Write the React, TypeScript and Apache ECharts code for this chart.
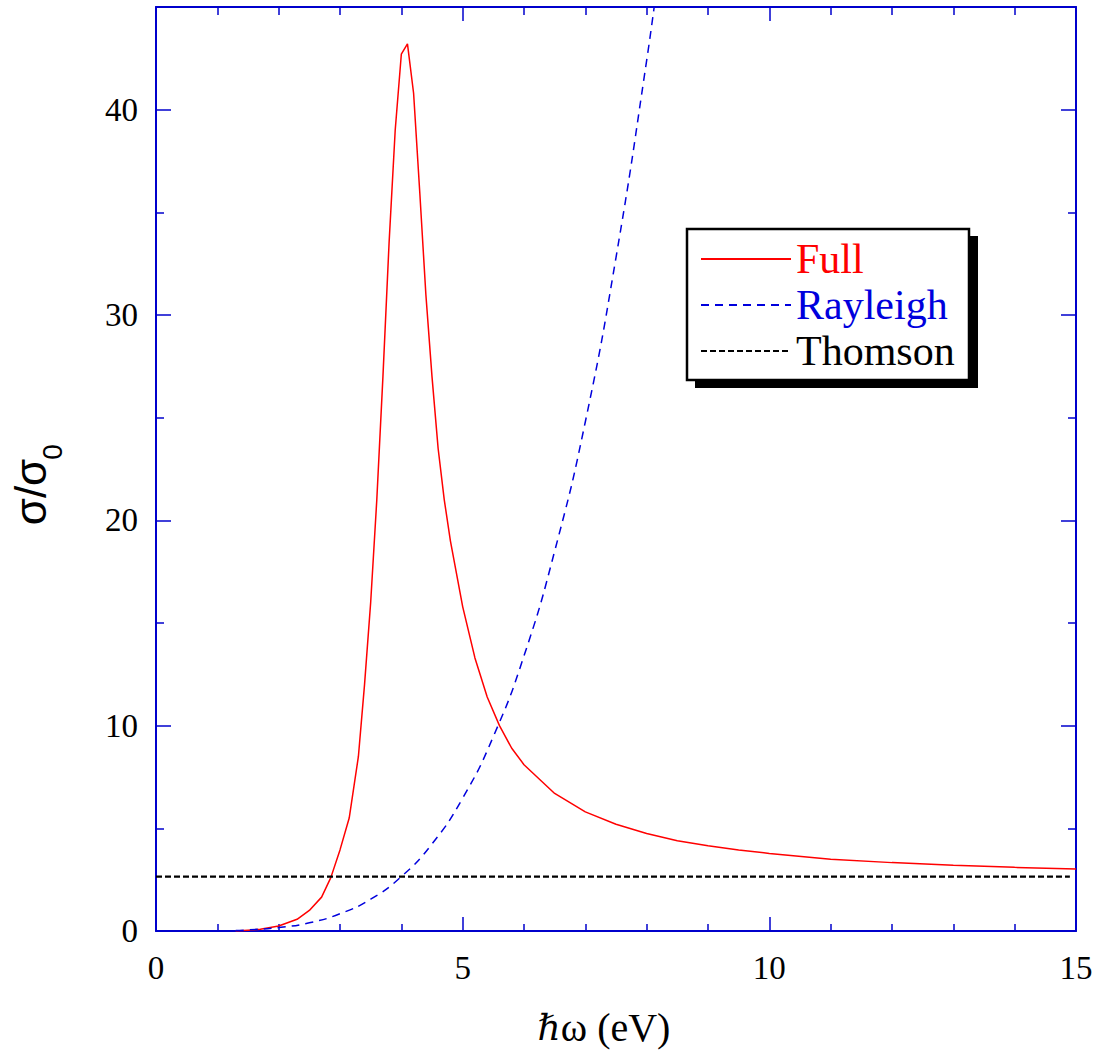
import React, { useEffect, useRef } from "react";
import * as echarts from "echarts";

const fullX = [1.3, 1.5, 1.7, 2.0, 2.3, 2.5, 2.7, 2.85, 3.0, 3.15, 3.3, 3.4, 3.5, 3.6, 3.7, 3.8, 3.9, 4.0, 4.1, 4.2, 4.3, 4.4, 4.5, 4.6, 4.7, 4.8, 5.0, 5.2, 5.4, 5.6, 5.8, 6.0, 6.5, 7.0, 7.5, 8.0, 8.5, 9.0, 9.5, 10, 11, 12, 13, 14, 15];
const fullY = [0.0, 0.04, 0.08, 0.24, 0.57, 1.0, 1.65, 2.6, 3.95, 5.5, 8.5, 12, 16, 21, 27, 33.5, 39, 42.7, 43.2, 40.8, 36, 31, 27, 23.5, 21, 19, 15.8, 13.3, 11.4, 10.0, 8.9, 8.1, 6.7, 5.8, 5.2, 4.75, 4.4, 4.15, 3.95, 3.78, 3.5, 3.33, 3.2, 3.1, 3.02];

const rayX = [1.3, 1.5, 2.0, 2.5, 3.0, 3.5, 4.0, 4.5, 5.0, 5.5, 6.0, 6.5, 7.0, 7.5, 8.0, 8.2];
const rayY = [0.03, 0.05, 0.17, 0.4, 0.84, 1.55, 2.65, 4.24, 6.47, 9.47, 13.4, 18.5, 24.8, 32.8, 42.4, 46.8];

const thomX = [0, 14.9];
const thomY = [2.65, 2.65];

const xTicks = { min: 0, max: 15, interval: 5 };
const yTicks = { min: 0, max: 45, interval: 10 };

const FRAME = "#0000cc";
const SERIF = "'Liberation Serif', 'Times New Roman', serif";

const zip = (xs: number[], ys: number[]) => xs.map((x, i) => [x, ys[i]]);

export default function App() {
  const ref = useRef<HTMLDivElement>(null);
  useEffect(() => {
    if (!ref.current) return;
    const chart = echarts.init(ref.current, null, { renderer: "svg" });
    const axisLine = { show: true, onZero: false, lineStyle: { color: FRAME, width: 2 } };
    const xCommon = {
      type: "value",
      min: xTicks.min,
      max: xTicks.max,
      interval: xTicks.interval,
      axisLine,
      splitLine: { show: false },
    };
    const yCommon = {
      type: "value",
      min: yTicks.min,
      max: yTicks.max,
      interval: yTicks.interval,
      axisLine,
      splitLine: { show: false },
    };
    chart.setOption({
      animation: false,
      backgroundColor: "#ffffff",
      grid: { left: 156, right: 27, top: 7, bottom: 128 },
      xAxis: [
        {
          ...xCommon,
          position: "bottom",
          axisTick: { inside: true, length: 14, lineStyle: { color: FRAME, width: 1.5 } },
          minorTick: { show: true, splitNumber: 5, length: 7, lineStyle: { color: FRAME, width: 1.5 } },
          axisLabel: { color: "#000", fontSize: 33, fontFamily: SERIF, margin: 20 },
        },
        {
          ...xCommon,
          position: "top",
          axisTick: { inside: true, length: 14, lineStyle: { color: FRAME, width: 1.5 } },
          minorTick: { show: true, splitNumber: 5, length: 8, lineStyle: { color: FRAME, width: 1.5 } },
          axisLabel: { show: false },
        },
      ],
      yAxis: [
        {
          ...yCommon,
          position: "left",
          axisTick: { inside: true, length: 15, lineStyle: { color: FRAME, width: 1.5 } },
          minorTick: { show: true, splitNumber: 2, length: 8, lineStyle: { color: FRAME, width: 1.5 } },
          axisLabel: { color: "#000", fontSize: 33, fontFamily: SERIF, margin: 18, showMaxLabel: false },
        },
        {
          ...yCommon,
          position: "right",
          axisTick: { inside: true, length: 15, lineStyle: { color: FRAME, width: 1.5 } },
          minorTick: { show: true, splitNumber: 2, length: 8, lineStyle: { color: FRAME, width: 1.5 } },
          axisLabel: { show: false },
        },
      ],
      legend: {
        orient: "vertical",
        left: 700,
        top: 236,
        padding: 0,
        itemGap: 0,
        itemWidth: 90,
        itemHeight: 14,
        itemStyle: { opacity: 0 },
        textStyle: { fontSize: 42, fontFamily: SERIF, lineHeight: 46 },
        data: [
          { name: "Full", textStyle: { color: "#ff0000" } },
          { name: "Rayleigh", textStyle: { color: "#0000dd" } },
          { name: "Thomson", textStyle: { color: "#000000" } },
        ],
        z: 10,
      },
      graphic: [
        { type: "rect", z: 5, shape: { x: 695, y: 236, width: 283, height: 152 }, style: { fill: "#000" } },
        { type: "rect", z: 6, shape: { x: 687, y: 229, width: 282, height: 151 }, style: { fill: "#fff", stroke: "#000", lineWidth: 2.5 } },
        {
          type: "text",
          x: 604,
          y: 1027,
          style: {
            text: "{h|ℏ}{t|ω (eV)}",
            fill: "#000",
            align: "center",
            verticalAlign: "middle",
            rich: {
              h: { fontFamily: "'DejaVu Serif', serif", fontStyle: "italic", fontSize: 36, fill: "#000" },
              t: { fontFamily: SERIF, fontSize: 40, fill: "#000" },
            },
          },
        },
        {
          type: "text",
          x: 30,
          y: 492,
          rotation: Math.PI / 2,
          style: { text: "σ/σ", font: "44px 'Liberation Sans', Arial, sans-serif", fill: "#000", align: "center", verticalAlign: "middle" },
        },
        {
          type: "text",
          x: 52,
          y: 452,
          rotation: Math.PI / 2,
          style: { text: "0", font: "28px 'Liberation Sans', Arial, sans-serif", fill: "#000", align: "center", verticalAlign: "middle" },
        },
      ],
      series: [
        {
          name: "Full",
          type: "line",
          data: zip(fullX, fullY),
          symbol: "none",
          smooth: false,
          lineStyle: { color: "#ff0000", width: 1.5 },
          itemStyle: { color: "#ff0000" },
          z: 3,
        },
        {
          name: "Rayleigh",
          type: "line",
          data: zip(rayX, rayY),
          symbol: "none",
          smooth: true,
          lineStyle: { color: "#0000dd", width: 1.5, type: [8, 6] },
          itemStyle: { color: "#0000dd" },
          z: 3,
        },
        {
          name: "Thomson",
          type: "line",
          data: zip(thomX, thomY),
          symbol: "none",
          lineStyle: { color: "#000000", width: 2.3, type: [6, 3] },
          itemStyle: { color: "#000000" },
          z: 3,
        },
      ],
    });
    return () => chart.dispose();
  }, []);
  return <div ref={ref} style={{ width: 1103, height: 1059, position: "absolute", left: 0, top: 0 }} />;
}
